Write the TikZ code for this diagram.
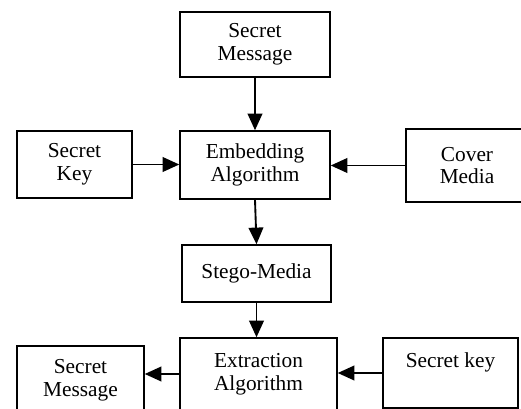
\documentclass[tikz,border=0pt]{standalone}
\usepackage{fontspec}
\setmainfont{Liberation Serif}
\usetikzlibrary{arrows.meta}
\tikzset{
  block/.style={draw, line width=1.1pt, rectangle, align=center, inner sep=2pt,
    font=\fontsize{16}{17}\selectfont},
  flow/.style={line width=1.4pt, -{Triangle[length=12.5pt,width=11pt]}}
}
\begin{document}
\begin{tikzpicture}[x=0.75pt, y=-0.75pt]
    \useasboundingbox (0,0) rectangle (521,409);
    \clip (0,0) rectangle (521,409);
    % embedding side
    \node [block, minimum width=112.5pt, minimum height=48.75pt] (msgin) at (255,44.5) {Secret\\Message};
    \node [block, minimum width=112.5pt, minimum height=51pt] (embed) at (255,165) {Embedding\\Algorithm};
    \node [block, minimum width=86.25pt, minimum height=50.25pt] (keyin) at (74.5,164.5) {Secret\\Key};
    \node [block, minimum width=91.5pt, minimum height=54.75pt] (cover) at (467,165.5) {Cover\\Media};
    \node [block, minimum width=111.75pt, minimum height=42.75pt] (stego) at (256.5,273.5) {Stego-Media};
    % extraction side
    \node [block, minimum width=117.75pt, minimum height=54pt] (extract) at (258.5,374) {Extraction\\Algorithm};
    \node [block, minimum width=101.25pt, minimum height=52.5pt] (keyout) at (450.5,373) {Secret key\\[2pt]\mbox{}};
    \node [block, minimum width=95.25pt, minimum height=51pt] (msgout) at (80.5,380) {Secret\\Message};
    \draw [flow] (msgin.south) -- (embed.north);
    \draw [flow] (keyin.east) -- (keyin.east -| embed.west);
    \draw [flow] (cover.west) -- (cover.west -| embed.east);
    \draw [flow] (embed.south) -- (stego.north);
    \draw [flow] (stego.south) -- (stego.south |- extract.north);
    \draw [flow] (keyout.west) -- (keyout.west -| extract.east);
    \draw [flow] (extract.west) -- (extract.west -| msgout.east);
\end{tikzpicture}
\end{document}
